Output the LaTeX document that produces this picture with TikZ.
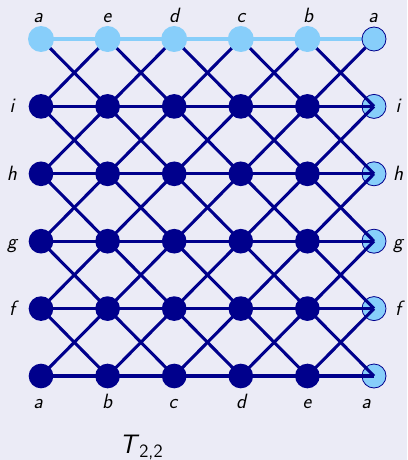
\documentclass[tikz,border=0pt]{standalone}
\usepackage{tikz}
\pgfdeclarelayer{background}
\pgfdeclarelayer{mid}
\pgfsetlayers{background,mid,main}
\definecolor{bgc}{RGB}{235,235,246}
\definecolor{navy}{RGB}{0,0,140}
\definecolor{sky}{RGB}{135,206,250}
\begin{document}
\begin{tikzpicture}[x=0.75pt,y=-0.75pt,
  dot/.style={circle,fill=navy,inner sep=0pt,minimum size=18.5pt},
  topdot/.style={circle,fill=sky,inner sep=0pt,minimum size=19.5pt},
  enddot/.style={circle,fill=sky,draw=navy,line width=0.6pt,inner sep=0pt,minimum size=18pt},
  link/.style={navy,line width=2.3pt},
  toplink/.style={sky,line width=2.4pt},
  lab/.style={font=\sffamily\itshape\fontsize{15.5}{16}\selectfont,text=black,inner sep=0pt,anchor=base}]
\begin{pgfonlayer}{background}
\fill[bgc] (0,0) rectangle (407,460);
\end{pgfonlayer}
\useasboundingbox (0,0) rectangle (407,460);
\def\colx{{41,107.6,174.2,240.8,307.4,374}}
\def\rowy{{39,106.4,173.8,241.2,308.6,376}}
% top row
\foreach \c in {0,...,4}{
  \pgfmathsetmacro\xx{\colx[\c]}
  \node[topdot] (n-0-\c) at (\xx,39) {};
}
\node[enddot] (n-0-5) at (374,39) {};
% other rows
\foreach \r in {1,...,5}{
  \pgfmathsetmacro\yy{\rowy[\r]}
  \foreach \c in {0,...,4}{
    \pgfmathsetmacro\xx{\colx[\c]}
    \node[dot] (n-\r-\c) at (\xx,\yy) {};
  }
  \begin{pgfonlayer}{background}
  \node[enddot] (n-\r-5) at (374,\yy) {};
  \end{pgfonlayer}
}
\begin{pgfonlayer}{mid}
% top horizontal
\foreach \c [evaluate=\c as \d using int(\c+1)] in {0,...,3}{
  \draw[toplink] (n-0-\c.center) -- (n-0-\d.center);
}
\draw[toplink] (n-0-4.center) -- (n-0-5);
% other horizontals
\foreach \r in {1,...,5}{
  \foreach \c [evaluate=\c as \d using int(\c+1)] in {0,...,4}{
    \draw[link] (n-\r-\c.center) -- (n-\r-\d.center);
  }
}
% diagonals
\foreach \r [evaluate=\r as \s using int(\r+1)] in {1,...,4}{
  \foreach \c [evaluate=\c as \d using int(\c+1)] in {0,...,4}{
    \draw[link] (n-\r-\c.center) -- (n-\s-\d.center);
    \draw[link] (n-\r-\d.center) -- (n-\s-\c.center);
  }
}
\foreach \c [evaluate=\c as \d using int(\c+1)] in {0,...,3}{
  \draw[link] (n-0-\c.center) -- (n-1-\d.center);
  \draw[link] (n-0-\d.center) -- (n-1-\c.center);
}
\draw[link] (n-0-4.center) -- (n-1-5.center);
\draw[link] (n-0-5) -- (n-1-4.center);
\end{pgfonlayer}
% labels
\node[lab] (t0) at (38,23) {a};
\node[lab] (t1) at (107,23) {e};
\node[lab] (t2) at (174,23) {d};
\node[lab] (t3) at (241,23) {c};
\node[lab] (t4) at (308,23) {b};
\node[lab] (t5) at (373,23) {a};
\node[lab] (l1) at (12,113) {i};
\node[lab] (l2) at (12,180) {h};
\node[lab] (l3) at (12,248) {g};
\node[lab] (l4) at (12,315) {f};
\node[lab] (r1) at (398,113) {i};
\node[lab] (r2) at (398,180) {h};
\node[lab] (r3) at (398,248) {g};
\node[lab] (r4) at (398,315) {f};
\node[lab] (b0) at (38,408) {a};
\node[lab] (b1) at (107,408) {b};
\node[lab] (b2) at (173,408) {c};
\node[lab] (b3) at (241,408) {d};
\node[lab] (b4) at (307,408) {e};
\node[lab] (b5) at (366,408) {a};
\node[font=\sffamily\fontsize{20}{22}\selectfont,text=black,inner sep=0pt,anchor=base west] (title) at (119,453) {\textit{T}\textsubscript{2,2}};
\end{tikzpicture}
\end{document}
